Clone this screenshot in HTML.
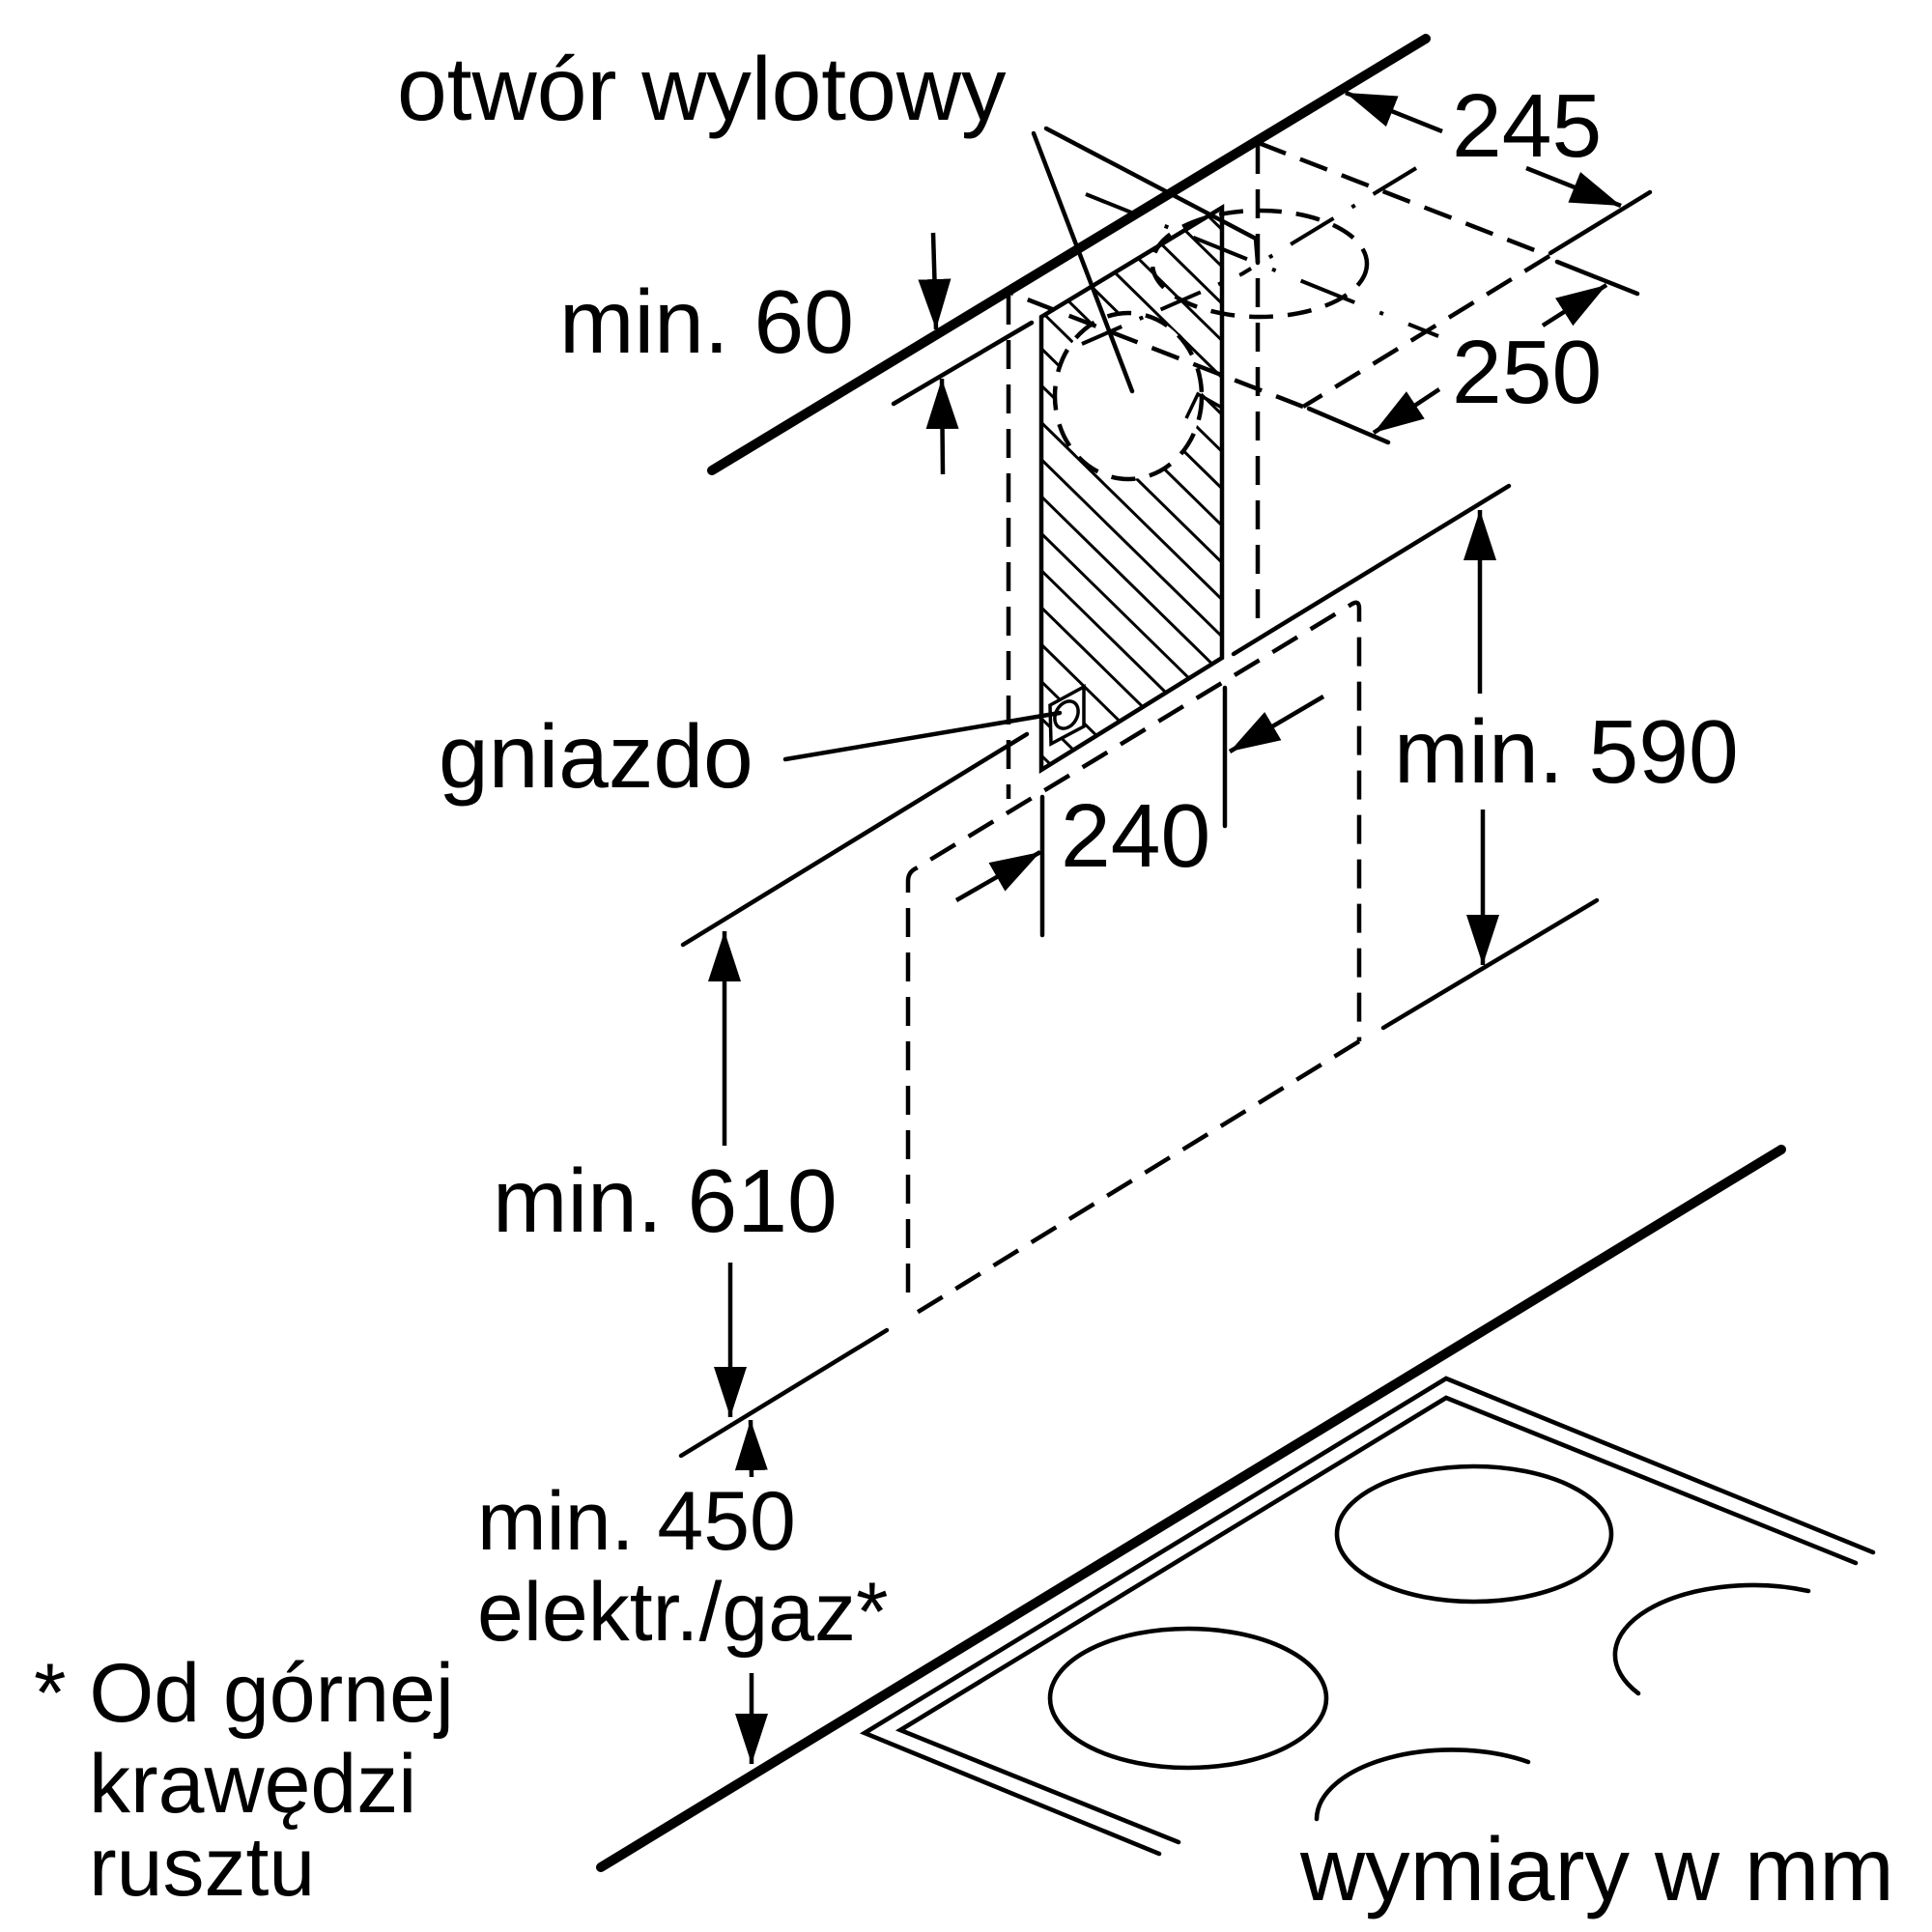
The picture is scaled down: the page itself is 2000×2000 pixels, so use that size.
<!DOCTYPE html>
<html>
<head>
<meta charset="utf-8">
<style>
html,body{margin:0;padding:0;background:#fff}
svg{display:block}
text{font-family:"Liberation Sans",Arial,sans-serif;fill:#000}
</style>
</head>
<body>
<svg width="2000" height="2000" viewBox="0 0 2000 2000" xmlns="http://www.w3.org/2000/svg">
<defs>
<marker id="ah" markerUnits="userSpaceOnUse" markerWidth="52" markerHeight="36" refX="52" refY="18" orient="auto" viewBox="0 0 52 36">
<path d="M0,1 L52,18 L0,35 z" fill="#000"/>
</marker>
<clipPath id="panelClip">
<polygon points="1078,328 1265,215 1265,681 1078,797"/>
</clipPath>
</defs>
<rect width="2000" height="2000" fill="#fff"/>

<!-- Texts -->
<text x="411" y="124" font-size="93">otwór wylotowy</text>
<text x="579" y="365" font-size="93">min. 60</text>
<text x="1503" y="162" font-size="93">245</text>
<text x="1503" y="417" font-size="93">250</text>
<text x="454" y="815" font-size="93">gniazdo</text>
<text x="1443" y="810" font-size="93">min. 590</text>
<text x="1098" y="897" font-size="93">240</text>
<text x="510" y="1275" font-size="93">min. 610</text>
<text x="494" y="1604" font-size="86">min. 450</text>
<text x="494" y="1698" font-size="86">elektr./gaz*</text>
<text x="35" y="1782" font-size="86">* Od górnej</text>
<text x="92" y="1876" font-size="86">krawędzi</text>
<text x="92" y="1962" font-size="86">rusztu</text>
<text x="1346" y="1967" font-size="93">wymiary w mm</text>

<!-- Thick ceiling & cooktop lines -->
<line x1="737" y1="487" x2="1476" y2="40" stroke="#000" stroke-width="10" stroke-linecap="round"/>
<line x1="622" y1="1933" x2="1844" y2="1190" stroke="#000" stroke-width="10" stroke-linecap="round"/>

<!-- Panel hatching -->
<g clip-path="url(#panelClip)" stroke="#000" stroke-width="3">
<line x1="1070" y1="8.2" x2="1272" y2="206.2"/>
<line x1="1070" y1="46.5" x2="1272" y2="244.5"/>
<line x1="1070" y1="84.8" x2="1272" y2="282.8"/>
<line x1="1070" y1="123.1" x2="1272" y2="321.1"/>
<line x1="1070" y1="161.4" x2="1272" y2="359.4"/>
<line x1="1070" y1="199.7" x2="1272" y2="397.7"/>
<line x1="1070" y1="238" x2="1272" y2="436"/>
<line x1="1070" y1="276.3" x2="1272" y2="474.3"/>
<line x1="1070" y1="314.6" x2="1272" y2="512.6"/>
<line x1="1070" y1="352.9" x2="1272" y2="550.9"/>
<line x1="1070" y1="391.2" x2="1272" y2="589.2"/>
<line x1="1070" y1="429.5" x2="1272" y2="627.5"/>
<line x1="1070" y1="467.8" x2="1272" y2="665.8"/>
<line x1="1070" y1="506.1" x2="1272" y2="704.1"/>
<line x1="1070" y1="544.4" x2="1272" y2="742.4"/>
<line x1="1070" y1="582.7" x2="1272" y2="780.7"/>
<line x1="1070" y1="621" x2="1272" y2="819"/>
<line x1="1070" y1="659.3" x2="1272" y2="857.3"/>
<line x1="1070" y1="697.6" x2="1272" y2="895.6"/>
<line x1="1070" y1="735.9" x2="1272" y2="933.9"/>
<line x1="1070" y1="774.2" x2="1272" y2="972.2"/>
</g>
<!-- cutout -->
<ellipse cx="1168" cy="410" rx="76" ry="86" fill="#fff"/>
<polyline points="1228,433 1240,408 1265,422" fill="none" stroke="#000" stroke-width="3.5"/>
<!-- panel outline -->
<polygon points="1078,328 1265,215 1265,681 1078,797" fill="none" stroke="#000" stroke-width="4.5" stroke-linejoin="miter"/>
<!-- socket -->
<polygon points="1087,730 1122,711 1122,752 1088,770" fill="#fff" stroke="#000" stroke-width="3.5"/>
<ellipse cx="1104" cy="740" rx="11" ry="15" transform="rotate(30 1104 740)" fill="none" stroke="#000" stroke-width="3.5"/>

<!-- Dashed lines -->
<g fill="none" stroke="#000" stroke-width="4.5" stroke-dasharray="30 16">
<line x1="1044" y1="306" x2="1044" y2="827"/>
<line x1="1302" y1="150" x2="1302" y2="653"/>
<line x1="1303" y1="148" x2="1604" y2="265"/>
<line x1="1604" y1="265" x2="1349" y2="421"/>
<line x1="1349" y1="421" x2="1048" y2="304"/>
<ellipse cx="1304" cy="273" rx="111" ry="55" stroke-dasharray="25 15"/>
<ellipse cx="1168" cy="410" rx="76" ry="86" stroke-dasharray="25 15"/>
<!-- hood -->
<path d="M940,1338 L940,912 Q940,903 948,899 L1400,625 Q1407,621 1407,630 L1407,1078"/>
<line x1="1407" y1="1078" x2="939" y2="1365"/>
</g>

<!-- Center lines (dash-dot) -->
<g fill="none" stroke="#000" stroke-width="4">
<line x1="1124" y1="201" x2="1489" y2="348" stroke-dasharray="60 28 4 28"/>
<line x1="1466" y1="174" x2="1285" y2="284" stroke-dasharray="52 22 4 22"/>
<line x1="1120" y1="356" x2="1285" y2="284" stroke-dasharray="45 20 4 20"/>
</g>

<!-- Solid thin lines -->
<g fill="none" stroke="#000" stroke-width="4.5" stroke-linecap="round">
<line x1="1070" y1="138" x2="1172" y2="405"/>
<polyline points="1083,133 1300,247 1302,272"/>
<line x1="925" y1="418" x2="1068" y2="334"/>
<line x1="1605" y1="262" x2="1708" y2="199"/>
<line x1="1612" y1="271" x2="1695" y2="304"/>
<line x1="1355" y1="423" x2="1437" y2="458"/>
<line x1="813" y1="786" x2="1097" y2="738"/>
<line x1="707" y1="978" x2="1063" y2="760"/>
<line x1="1277" y1="677" x2="1562" y2="503"/>
<line x1="1432" y1="1064" x2="1653" y2="932"/>
<line x1="705" y1="1507" x2="918" y2="1377"/>
<line x1="1079" y1="825" x2="1079" y2="968"/>
<line x1="1268" y1="712" x2="1268" y2="855"/>
</g>

<!-- Arrows -->
<g stroke="#000" stroke-width="4.5" marker-end="url(#ah)">
<line x1="966" y1="241" x2="969" y2="341"/>
<line x1="976" y1="491" x2="975" y2="392"/>
<line x1="1493" y1="136" x2="1393" y2="96"/>
<line x1="1580" y1="174" x2="1678" y2="213"/>
<line x1="1597" y1="337" x2="1663" y2="295"/>
<line x1="1490" y1="403" x2="1422" y2="448"/>
<line x1="1532" y1="718" x2="1532" y2="528"/>
<line x1="1535" y1="838" x2="1535" y2="999"/>
<line x1="990" y1="932" x2="1077" y2="882"/>
<line x1="1370" y1="721" x2="1273" y2="778"/>
<line x1="750" y1="1186" x2="750" y2="964"/>
<line x1="756" y1="1307" x2="756" y2="1467"/>
<line x1="778" y1="1529" x2="777" y2="1470"/>
<line x1="778" y1="1732" x2="778" y2="1826"/>
</g>

<!-- Cooktop -->
<g fill="none" stroke="#000" stroke-width="4.6" stroke-linejoin="miter" stroke-linecap="round">
<polyline points="1200,1919 895,1794 1497,1427 1939,1607"/>
<polyline points="1220,1907 932,1791 1497,1447 1921,1618"/>
<ellipse cx="1526" cy="1588" rx="142" ry="70"/>
<ellipse cx="1230" cy="1758" rx="143" ry="72"/>
<path d="M1696,1753 A143,72 0 0 1 1872,1647"/>
<path d="M1363,1883 A140,72 0 0 1 1582,1824"/>
</g>
</svg>
</body>
</html>
